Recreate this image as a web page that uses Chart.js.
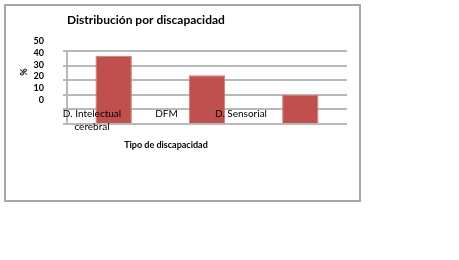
<!DOCTYPE html>
<html><head><meta charset="utf-8">
<script src="https://cdn.jsdelivr.net/npm/chart.js@4/dist/chart.umd.min.js"></script>
<style>html,body{margin:0;padding:0;background:#fff;}canvas{display:block;}</style>
</head><body>
<canvas id="c" width="459" height="260"></canvas>
<script>
const categories = ['D. Intelectual cerebral', 'DFM', 'D. Sensorial'];
const categoryTickLabels = [['D. Intelectual', 'cerebral'], 'DFM', 'D. Sensorial'];
const categoryTickValues = [0, 1, 2];
const values = [46.8, 33.4, 19.8];
const yTickValues = [0, 10, 20, 30, 40, 50];
const yTickLabels = ['0', '10', '20', '30', '40', '50'];
const chartTitle = 'Distribución por discapacidad';
const xTitle = 'Tipo de discapacidad';
const yTitle = '%';

const FONT = 'Lato';
const GRID = '#b9b9b9';

const frame = {
  id: 'frame',
  beforeDraw(chart) {
    const ctx = chart.ctx;
    ctx.save();
    ctx.fillStyle = '#fff';
    ctx.fillRect(0, 0, chart.width, chart.height);
    ctx.strokeStyle = '#a6a6a6';
    ctx.lineWidth = 2;
    ctx.strokeRect(5, 5, 355, 196);
    ctx.restore();
  }
};

new Chart(document.getElementById('c'), {
  type: 'bar',
  data: {
    labels: categories,
    datasets: [{
      data: values,
      backgroundColor: '#c0504d',
      borderColor: '#d07572',
      borderWidth: 1,
      xAxisID: 'x',
      yAxisID: 'y',
      categoryPercentage: 1,
      barPercentage: 0.39
    }]
  },
  options: {
    responsive: false,
    animation: false,
    layout: { padding: { left: -15, right: 112, top: -6.5, bottom: 109.5 } },
    plugins: {
      legend: { display: false },
      tooltip: { enabled: false },
      title: {
        display: true, text: chartTitle, align: 'start', fullSize: false,
        color: '#000', font: { family: FONT, size: 12, weight: 'bold', lineHeight: 1.3 },
        padding: { top: 18.5, bottom: 23.4 }
      }
    },
    scales: {
      x: {
        type: 'category', display: false, offset: true
      },
      y: {
        type: 'linear', position: 'left', weight: 0, min: 0, max: 50,
        ticks: { display: false, stepSize: 10 },
        grid: { color: GRID, lineWidth: 2, tickLength: 4, drawTicks: true },
        border: { color: GRID, width: 2 }
      },
      yl: {
        type: 'linear', position: 'left', weight: 1, fullSize: true, offset: false,
        min: -42.80, max: 90.25,
        afterBuildTicks(s) { s.ticks = yTickValues.map(v => ({ value: v })); },
        afterFit(s) { s.width = 78; },
        ticks: {
          autoSkip: false, padding: 19, color: '#000',
          font: { family: FONT, size: 9, weight: 'bold' },
          callback: (v, i) => yTickLabels[i]
        },
        grid: { display: false, drawTicks: false, offset: false },
        border: { display: false },
        title: {
          display: true, text: yTitle, color: '#000',
          font: { family: FONT, size: 9, weight: 'bold', lineHeight: 1.2 },
          padding: { top: 33.6, bottom: 0 }
        }
      },
      xl: {
        type: 'linear', position: 'bottom', weight: 1, offset: false,
        min: -0.3356, max: 3.4228, bounds: 'data',
        afterBuildTicks(s) { s.ticks = categoryTickValues.map(v => ({ value: v })); },
        afterFit(s) { s.height = 13; },
        ticks: {
          autoSkip: false, maxRotation: 0, minRotation: 0, mirror: true, padding: 3.5, z: 1,
          color: '#000',
          font: { family: FONT, size: 10, lineHeight: '13px' },
          callback: (v, i) => categoryTickLabels[i]
        },
        grid: { display: false, drawTicks: false, tickLength: 0, offset: false },
        border: { display: false }
      },
      xt: {
        type: 'linear', position: 'bottom', weight: 2, fullSize: true, offset: false,
        min: 0, max: 1,
        afterFit(s) { s.height = 13.5; },
        ticks: { display: false },
        grid: { display: false, drawTicks: false, tickLength: 0, offset: false },
        border: { display: false },
        title: {
          display: true, text: xTitle, color: '#000',
          font: { family: FONT, size: 9, weight: 'bold', lineHeight: 1.2 },
          padding: { top: 2.7, bottom: 0 }
        }
      }
    }
  },
  plugins: [frame]
});
</script>
</body></html>
